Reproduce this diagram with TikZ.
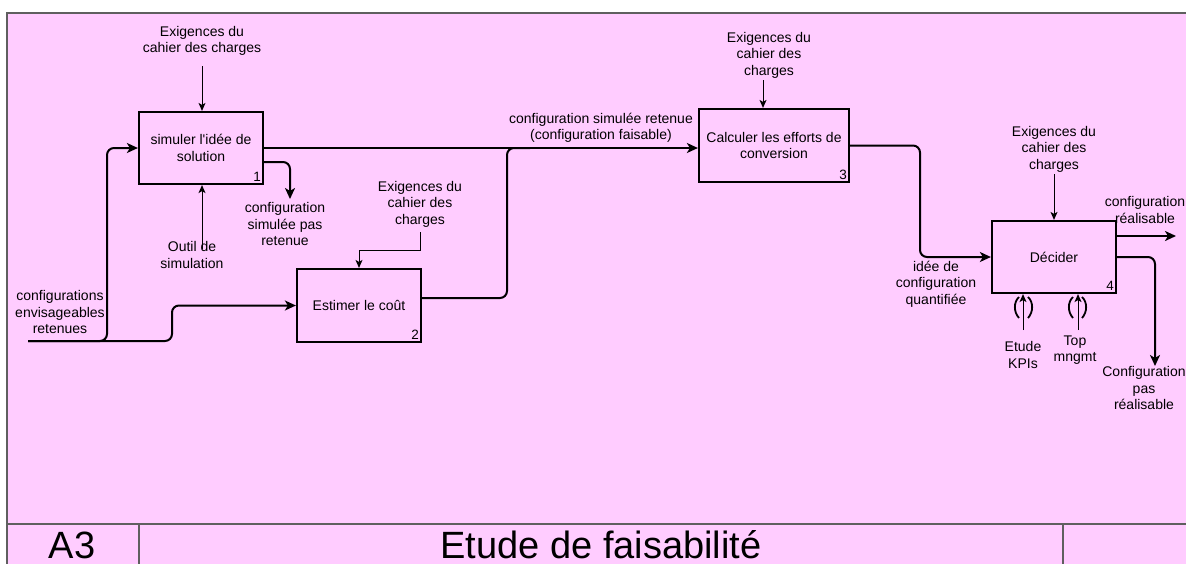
\documentclass[tikz,border=0pt]{standalone}
\usepackage{fontspec}
\setmainfont{Liberation Sans}[Ligatures=TeXOff]
\usetikzlibrary{arrows.meta,calc}
\definecolor{bgpink}{RGB}{255,204,255}
\definecolor{frameg}{RGB}{95,95,95}
\newcommand{\lbf}{\fontsize{14}{16.5}\selectfont}
\begin{document}
\begin{tikzpicture}[x=1pt,y=-1pt,
  box/.style={draw=black,line width=2.2pt,fill=bgpink,inner sep=2pt,align=center,font=\lbf},
  lbl/.style={align=center,font=\lbf,inner sep=0pt},
  num/.style={font=\fontsize{13.5}{15}\selectfont,anchor=south east,inner sep=3pt},
  flow/.style={line width=2pt,rounded corners=7pt,-{Stealth[length=11pt,width=10pt,inset=3pt]}},
  flowline/.style={line width=2pt,rounded corners=7pt},
  ctrl/.style={line width=1pt,-{Stealth[length=8pt,width=7pt,inset=2pt]}},
  paren/.style={line width=1.8pt},
  frame/.style={draw=frameg,line width=1.3pt},
  titletext/.style={font=\fontsize{38}{40}\selectfont,anchor=base,inner sep=0pt,text depth=0pt}]
\useasboundingbox (0,0) rectangle (1186,563);
\clip (0,0) rectangle (1186,563);
\fill[white] (0,0) rectangle (1186,563);
% frame and title bar
\draw[frame,fill=bgpink] (7,13) rectangle (1220,600);
\draw[frame] (7,524) -- (1220,524);
\draw[frame] (139,524) -- (139,600);
\draw[frame] (1063,524) -- (1063,600);
\node[titletext] (a3) at (72,558) {A3};
\node[titletext] (ttl) at (601,558) {Etude de faisabilité};
% boxes
\node[box,minimum width=124pt,minimum height=72pt] (b1) at (201,148) {simuler l'idée de\\solution};
\node[box,minimum width=124pt,minimum height=73pt] (b2) at (359,305.5) {Estimer le coût};
\node[box,minimum width=150pt,minimum height=73pt] (b3) at (774,145.5) {Calculer les efforts de\\conversion};
\node[box,minimum width=124pt,minimum height=72pt] (b4) at (1054,257) {Décider};
\node[num] (n1) at (b1.south east) {1};
\node[num] (n2) at (b2.south east) {2};
\node[num] (n3) at (b3.south east) {3};
\node[num] (n4) at (b4.south east) {4};
% labels
\node[lbl] (ex1) at (202,41) {Exigences du\\cahier des charges};
\node[lbl] (ex2) at (420,204) {Exigences du\\cahier des\\charges};
\node[lbl] (ex3) at (769,55) {Exigences du\\cahier des\\charges};
\node[lbl] (ex4) at (1054,149) {Exigences du\\cahier des\\charges};
\node[lbl] (outil) at (192,255) {Outil de\\simulation};
\node[lbl] (cfgin) at (60,312) {configurations\\envisageables\\retenues};
\node[lbl] (cfgpas) at (285,224) {configuration\\simulée pas\\retenue};
\node[lbl] (cfgret) at (601,128) {configuration simulée retenue\\(configuration faisable)};
\node[lbl] (idee) at (936,284) {idée de\\configuration\\quantifiée};
\node[lbl] (real) at (1145,210) {configuration\\réalisable};
\node[lbl] (pasreal) at (1144,388) {Configuration\\pas\\réalisable};
\node[lbl] (kpi) at (1023,355) {Etude\\KPIs};
\node[lbl] (topm) at (1075,350) {Top\\mngmt};
% coordinates for free ends
\coordinate (in0) at (28,341);
\coordinate (rej) at (290,199);
\coordinate (o1) at (1176,236);
\coordinate (o2) at (1155,366);
\coordinate (e1s) at (202,66);
\coordinate (outs) at (202,249);
\coordinate (e2s) at (420,232);
\coordinate (e3s) at (763,80);
\coordinate (e4s) at (1054,174);
\coordinate (k1) at (1023,330);
\coordinate (k2) at (1078,330);
% flows
\draw[flow] (in0) -- (107,341) |- (b1.west);
\draw[flow] (in0) -- (172,341) |- (b2.west);
\draw[flow] (b1.east) -- (b1.east -| b3.west);
\draw[flowline] ($(b2.east)+(0,-7.5)$) -- (507,298) -- (507,148) -- (530,148);
\draw[flow] ($(b1.east)+(0,14)$) -| (rej);
\draw[flow] (b3.east) -- (920,145.5) |- (b4.west);
\draw[flow] (b4.east |- o1) -- (o1);
\draw[flow] (b4.east) -| (o2);
% controls / mechanisms
\draw[ctrl] (e1s) -- (e1s |- b1.north);
\draw[ctrl] (outs) -- (outs |- b1.south);
\draw[ctrl] (e2s) -- (420,250) -| (b2.north);
\draw[ctrl] (e3s) -- (e3s |- b3.north);
\draw[ctrl] (e4s) -- (b4.north);
\draw[ctrl] (k1) -- (k1 |- b4.south);
\draw[ctrl] (k2) -- (k2 |- b4.south);
% tunnel parentheses
\draw[paren] (1019,297) .. controls (1013.5,302) and (1013.5,312) .. (1019,318);
\draw[paren] (1028,297) .. controls (1033.5,302) and (1033.5,312) .. (1028,318);
\draw[paren] (1073,297) .. controls (1067.5,302) and (1067.5,312) .. (1073,318);
\draw[paren] (1082,297) .. controls (1087.5,302) and (1087.5,312) .. (1082,318);
\end{tikzpicture}
\end{document}
